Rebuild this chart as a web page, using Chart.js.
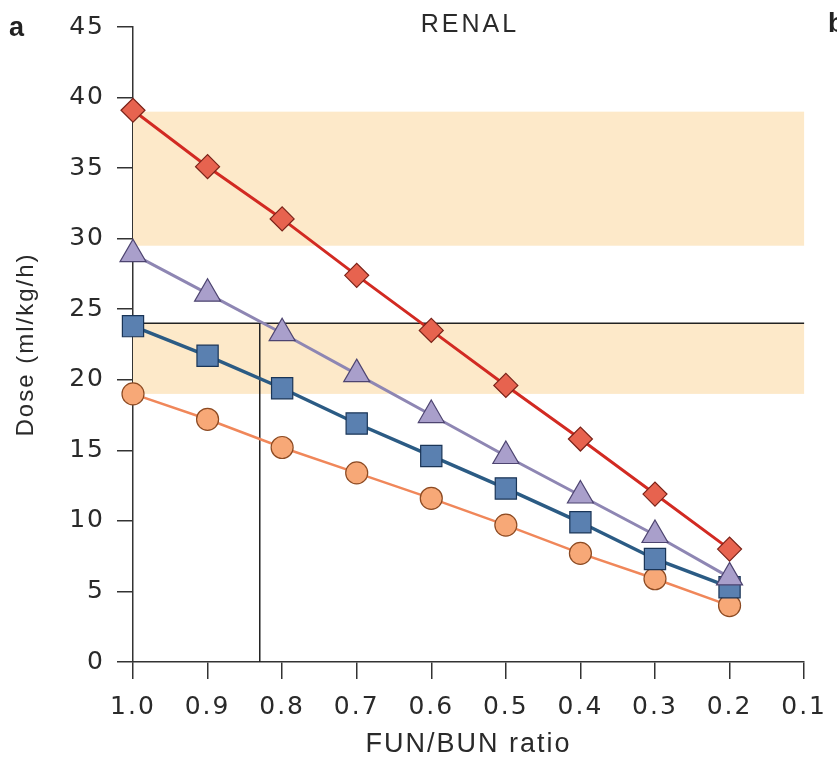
<!DOCTYPE html>
<html>
<head>
<meta charset="utf-8">
<script src="https://cdn.jsdelivr.net/npm/chart.js@4"></script>
<style>
  html, body { margin: 0; padding: 0; background: #fff; }
  #wrap { width: 837px; height: 763px; }
</style>
</head>
<body>
<div id="wrap"><canvas id="myChart" width="837" height="763"></canvas></div>
<script>
// FUN/BUN ratio on the x axis (reversed), dose on y
var ratios = [1.0, 0.9, 0.8, 0.7, 0.6, 0.5, 0.4, 0.3, 0.2];
var diamondDose = [39.1, 35.1, 31.4, 27.4, 23.5, 19.6, 15.8, 11.9, 8.0];
var triangleDose = [28.9, 26.1, 23.3, 20.4, 17.5, 14.6, 11.8, 9.0, 6.0];
var squareDose = [23.8, 21.7, 19.4, 16.9, 14.6, 12.3, 9.9, 7.3, 5.3];
var circleDose = [19.0, 17.2, 15.2, 13.4, 11.6, 9.7, 7.7, 5.9, 4.0];

var xTicks = [1.0, 0.9, 0.8, 0.7, 0.6, 0.5, 0.4, 0.3, 0.2, 0.1];
var yTicks = [0, 5, 10, 15, 20, 25, 30, 35, 40, 45];

// shaded target ranges and the reading lines
var bands = [[19, 24], [29.5, 39]];
var refDose = 24;
var refRatio = 0.83;

function pts(vals) {
    return ratios.map(function (r, i) { return { x: r, y: vals[i] }; });
}

document.addEventListener('DOMContentLoaded', function () {
    var ctx = document.getElementById('myChart').getContext('2d');

    var extras = {
        id: 'extras',
        beforeDraw: function (chart) {
            chart.ctx.letterSpacing = '2px';
        },
        beforeDatasetsDraw: function (chart) {
            var c = chart.ctx, x = chart.scales.x, y = chart.scales.y;
            c.save();
            c.fillStyle = '#fde9c9';
            bands.forEach(function (b) {
                var top = y.getPixelForValue(b[1]), bot = y.getPixelForValue(b[0]);
                c.fillRect(x.getPixelForValue(1.0), top, x.getPixelForValue(0.1) - x.getPixelForValue(1.0), bot - top);
            });
            c.strokeStyle = '#222';
            c.lineWidth = 1.5;
            c.beginPath();
            c.moveTo(x.getPixelForValue(1.0), y.getPixelForValue(refDose));
            c.lineTo(x.getPixelForValue(0.1), y.getPixelForValue(refDose));
            c.moveTo(x.getPixelForValue(refRatio), y.getPixelForValue(0));
            c.lineTo(x.getPixelForValue(refRatio), y.getPixelForValue(refDose));
            c.stroke();
            c.restore();
        },
        afterDraw: function (chart) {
            var c = chart.ctx;
            c.save();
            c.letterSpacing = '3px';
            c.fillStyle = '#2a2a2a';
            c.textBaseline = 'middle';
            c.textAlign = 'center';
            c.font = '25px "Liberation Sans", Arial, sans-serif';
            c.fillText('RENAL', 470, 25);
            c.letterSpacing = '0px';
            c.fillStyle = '#222';
            c.textAlign = 'left';
            c.font = 'bold 27px "Liberation Sans", Arial, sans-serif';
            c.fillText('a', 9, 29);
            c.fillText('b', 828, 25);
            c.restore();
        }
    };

    var tickFont = { family: '"DejaVu Sans", Verdana, sans-serif', size: 25 };

    var myChart = new Chart(ctx, {
        type: 'line',
        data: {
            datasets: [
                {
                    label: 'diamond',
                    data: pts(diamondDose),
                    borderColor: '#d22a22',
                    borderWidth: 3,
                    pointStyle: 'rectRot',
                    pointRadius: 12,
                    pointBackgroundColor: '#e7634f',
                    pointBorderColor: '#7a2218',
                    pointBorderWidth: 1.2,
                    clip: false
                },
                {
                    label: 'triangle',
                    data: pts(triangleDose),
                    borderColor: '#8e86b3',
                    borderWidth: 3,
                    pointStyle: 'triangle',
                    pointRadius: 15,
                    pointBackgroundColor: '#a99fcb',
                    pointBorderColor: '#4d4470',
                    pointBorderWidth: 1.2,
                    clip: false
                },
                {
                    label: 'square',
                    data: pts(squareDose),
                    borderColor: '#2b5b84',
                    borderWidth: 3.5,
                    pointStyle: 'rect',
                    pointRadius: 15,
                    pointBackgroundColor: '#5a80b0',
                    pointBorderColor: '#1a3557',
                    pointBorderWidth: 1.2,
                    clip: false
                },
                {
                    label: 'circle',
                    data: pts(circleDose),
                    borderColor: '#f0875a',
                    borderWidth: 2.5,
                    pointStyle: 'circle',
                    pointRadius: 11,
                    pointBackgroundColor: '#f7a877',
                    pointBorderColor: '#8c4a22',
                    pointBorderWidth: 1.2,
                    clip: false
                }
            ]
        },
        options: {
            responsive: false,
            animation: false,
            layout: { padding: { top: 25, right: 32, left: 0, bottom: 0 } },
            plugins: {
                legend: { display: false },
                tooltip: { enabled: false }
            },
            scales: {
                x: {
                    type: 'linear',
                    reverse: true,
                    min: 0.1,
                    max: 1.0,
                    afterBuildTicks: function (scale) {
                        scale.ticks = xTicks.map(function (v) { return { value: v }; });
                    },
                    afterFit: function (scale) { scale.height = 101; },
                    ticks: {
                        color: '#2a2a2a',
                        padding: 13,
                        font: tickFont,
                        callback: function (v) { return v.toFixed(1); },
                        maxRotation: 0,
                        autoSkip: false
                    },
                    grid: { drawOnChartArea: false, tickLength: 17, color: '#333', lineWidth: 1.5 },
                    border: { color: '#333', width: 1.5 },
                    title: {
                        display: true,
                        text: 'FUN/BUN ratio',
                        color: '#2a2a2a',
                        font: { family: '"Liberation Sans", Arial, sans-serif', size: 27 },
                        padding: { top: 0, bottom: 2 }
                    }
                },
                y: {
                    min: 0,
                    max: 45,
                    afterBuildTicks: function (scale) {
                        scale.ticks = yTicks.map(function (v) { return { value: v }; });
                    },
                    afterFit: function (scale) { scale.width = 133; },
                    ticks: {
                        color: '#2a2a2a',
                        padding: 12,
                        font: tickFont
                    },
                    grid: { drawOnChartArea: false, tickLength: 16, color: '#333', lineWidth: 1.5 },
                    border: { color: '#333', width: 1.5 },
                    title: {
                        display: true,
                        text: 'Dose (ml/kg/h)',
                        color: '#2a2a2a',
                        font: { family: '"Liberation Sans", Arial, sans-serif', size: 24 },
                        padding: { top: 12, bottom: 0 }
                    }
                }
            }
        },
        plugins: [extras]
    });
});
</script>
</body>
</html>
